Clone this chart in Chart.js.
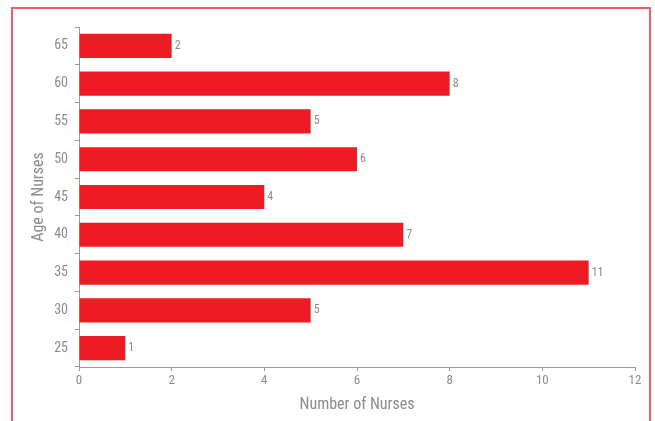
<!DOCTYPE html>
<html>
<head>
<meta charset="utf-8">
<script src="https://cdn.jsdelivr.net/npm/chart.js@4"></script>
<style>
  body { margin: 0; background: #fff; }
  #wrap { position: relative; width: 655px; height: 421px; }
  #frame { position: absolute; left: 11px; top: 7px; width: 640px; height: 430px; border: 2px solid #f0606a; box-sizing: border-box; }
  canvas { position: absolute; left: 0; top: 0; }
</style>
</head>
<body>
<div id="wrap">
  <div id="frame"></div>
  <canvas id="myChart" width="655" height="421"></canvas>
</div>
<script>
const ages = ["65", "60", "55", "50", "45", "40", "35", "30", "25"];
const nurses = [2, 8, 5, 6, 4, 7, 11, 5, 1];
const xTicks = [0, 2, 4, 6, 8, 10, 12];

const fontFam = "'Roboto Condensed', 'Roboto', sans-serif";
const grey = "#8c8c8c";

// values next to the end of each bar
const valueLabels = {
  id: "valueLabels",
  afterDatasetsDraw(chart) {
    const ctx = chart.ctx;
    const meta = chart.getDatasetMeta(0);
    ctx.save();
    ctx.font = "12px " + fontFam;
    ctx.fillStyle = grey;
    ctx.textBaseline = "middle";
    ctx.textAlign = "left";
    meta.data.forEach(function (bar, i) {
      ctx.fillText(nurses[i], bar.x + 3, bar.y);
    });
    ctx.restore();
  },
};

const ctx = document.getElementById("myChart");
const myChart = new Chart(ctx, {
  type: "bar",
  data: {
    labels: ages,
    datasets: [
      {
        data: nurses,
        backgroundColor: "#ed1c24",
        barPercentage: 0.64,
        categoryPercentage: 1,
      },
    ],
  },
  options: {
    indexAxis: "y",
    responsive: false,
    animation: false,
    layout: { padding: { top: 27, right: 20, left: 29, bottom: 0 } },
    plugins: {
      legend: { display: false },
      tooltip: { enabled: false },
    },
    scales: {
      x: {
        min: 0,
        max: 12,
        afterBuildTicks(scale) {
          scale.ticks = xTicks.map((v) => ({ value: v }));
        },
        afterFit(scale) {
          scale.height = 54;
        },
        border: { color: "#9a9a9a", width: 1 },
        grid: { drawOnChartArea: false, tickLength: 4, color: "#9a9a9a" },
        ticks: { color: grey, font: { family: fontFam, size: 13 }, padding: 2 },
        title: {
          display: true,
          text: "Number of Nurses",
          color: grey,
          font: { family: fontFam, size: 16 },
          padding: { top: 4, bottom: 6 },
        },
      },
      y: {
        afterFit(scale) {
          scale.width = 50;
        },
        border: { color: "#9a9a9a", width: 1 },
        grid: { drawOnChartArea: false, tickLength: 4, color: "#9a9a9a", offset: true },
        ticks: { color: grey, font: { family: fontFam, size: 14 }, padding: 7 },
        title: {
          display: true,
          text: "Age of Nurses",
          color: grey,
          font: { family: fontFam, size: 16 },
          padding: { top: 0, bottom: 0 },
        },
      },
    },
  },
  plugins: [valueLabels],
});
</script>
</body>
</html>
